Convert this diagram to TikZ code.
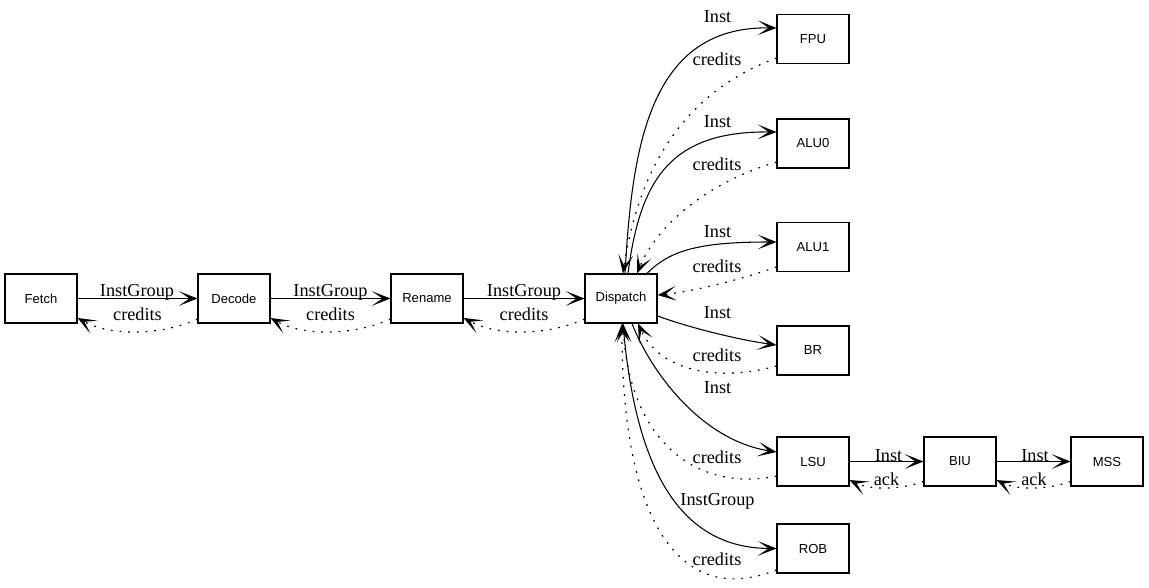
\documentclass[tikz,border=0pt]{standalone}
\usepackage{fontspec}
\setmainfont{Liberation Serif}
\setsansfont{Liberation Sans}
\usetikzlibrary{arrows.meta}
\tikzset{
  box/.style={draw, line width=0.8pt, rectangle, minimum width=54pt, minimum height=36.75pt, inner sep=0pt, font=\sffamily\fontsize{9.8pt}{11pt}\selectfont},
  lbl/.style={anchor=base, inner sep=0pt, font=\fontsize{13.7pt}{15pt}\selectfont},
  inst/.style={line width=0.8pt, -{Stealth[length=14pt,width=11pt,inset=8pt]}},
  cred/.style={line width=0.9pt, dash pattern=on 1.3pt off 5.2pt, -{Stealth[length=14pt,width=11pt,inset=8pt]}},
}
\begin{document}
\begin{tikzpicture}[x=0.75pt,y=-0.75pt]
\useasboundingbox (0,0) rectangle (1149,588);
% nodes
\node[box] (fetch) at (41,298.5) {Fetch};
\node[box] (decode) at (234,298.5) {Decode};
\node[box] (rename) at (427,298.5) {Rename};
\node[box] (disp) at (621,298.5) {Dispatch};
\node[box] (fpu) at (813,39) {FPU};
\node[box] (alu0) at (813,143.5) {ALU0};
\node[box] (alu1) at (813,247) {ALU1};
\node[box] (br) at (813,350.5) {BR};
\node[box] (lsu) at (813,461.5) {LSU};
\node[box] (biu) at (960,461.5) {BIU};
\node[box] (mss) at (1107,461.5) {MSS};
\node[box] (rob) at (813,548.5) {ROB};
% horizontal pipeline
\draw[inst] (fetch.east) -- (decode.west);
\draw[cred] ([yshift=-15.4pt]decode.west) .. controls (160,336) and (110,336) .. ([yshift=-14.6pt]fetch.east);
\node[lbl] (l1) at (137,296) {InstGroup};
\node[lbl] (l2) at (137.5,320) {credits};
\draw[inst] (decode.east) -- (rename.west);
\draw[cred] ([yshift=-15.4pt]rename.west) .. controls (353,336) and (303,336) .. ([yshift=-14.6pt]decode.east);
\node[lbl] (l3) at (330.5,296) {InstGroup};
\node[lbl] (l4) at (330.5,320) {credits};
\draw[inst] (rename.east) -- (disp.west);
\draw[cred] ([yshift=-15.4pt]disp.west) .. controls (547,336) and (497,336) .. ([yshift=-14.6pt]rename.east);
\node[lbl] (l5) at (524,296) {InstGroup};
\node[lbl] (l6) at (524,320) {credits};
% FPU
\draw[inst] ([xshift=3pt]disp.north) .. controls (632,150) and (648,26) .. ([yshift=8.25pt]fpu.west);
\draw[cred] ([yshift=-14.25pt]fpu.west) .. controls (690,90) and (640,160) .. ([xshift=1.5pt]disp.north);
\node[lbl] (l7) at (717.5,23) {Inst};
\node[lbl] (l8) at (717,66) {credits};
% ALU0
\draw[inst] ([xshift=5.25pt]disp.north) .. controls (640,180) and (670,131) .. ([yshift=8.6pt]alu0.west);
\draw[cred] ([yshift=-13.9pt]alu0.west) .. controls (700,185) and (655,230) .. ([xshift=12pt]disp.north);
\node[lbl] (l9) at (717.5,128) {Inst};
\node[lbl] (l10) at (717,171) {credits};
% ALU1
\draw[inst] ([xshift=19.5pt]disp.north) .. controls (670,250) and (700,242) .. ([yshift=3.75pt]alu1.west);
\draw[cred] ([yshift=-15pt]alu1.west) .. controls (740,280) and (690,292) .. ([yshift=2.6pt]disp.east);
\node[lbl] (l11) at (717.5,237) {Inst};
\node[lbl] (l12) at (717,272) {credits};
% BR
\draw[inst] ([yshift=-13.1pt]disp.east) .. controls (690,328) and (740,340) .. ([yshift=4.1pt]br.west);
\draw[cred] ([yshift=-11.6pt]br.west) .. controls (720,382) and (660,372) .. ([xshift=12.75pt]disp.south);
\node[lbl] (l13) at (717.5,318) {Inst};
\node[lbl] (l14) at (717,361) {credits};
% LSU
\draw[inst] ([xshift=8.25pt]disp.south) .. controls (650,370) and (700,440) .. ([yshift=7.1pt]lsu.west);
\draw[cred] ([yshift=-10.9pt]lsu.west) .. controls (700,492) and (630,445) .. ([xshift=1.5pt]disp.south);
\node[lbl] (l15) at (717.5,393) {Inst};
\node[lbl] (l16) at (717,463) {credits};
% ROB
\draw[inst] ([xshift=1.5pt]disp.south) .. controls (635,470) and (680,548) .. (rob.west);
\draw[cred] ([yshift=-16pt]rob.west) .. controls (690,605) and (622,540) .. ([xshift=0.75pt]disp.south);
\node[lbl] (l17) at (717.5,505) {InstGroup};
\node[lbl] (l18) at (717,565) {credits};
% LSU - BIU - MSS
\draw[inst] (lsu.east) -- (biu.west);
\draw[cred] ([yshift=-15pt]biu.west) .. controls (900,490) and (870,490) .. ([yshift=-13.9pt]lsu.east);
\node[lbl] (l19) at (888.5,461) {Inst};
\node[lbl] (l20) at (886.5,485) {ack};
\draw[inst] (biu.east) -- (mss.west);
\draw[cred] ([yshift=-15pt]mss.west) .. controls (1047,490) and (1017,490) .. ([yshift=-13.9pt]biu.east);
\node[lbl] (l21) at (1035,461) {Inst};
\node[lbl] (l22) at (1034,485) {ack};
\end{tikzpicture}
\end{document}
